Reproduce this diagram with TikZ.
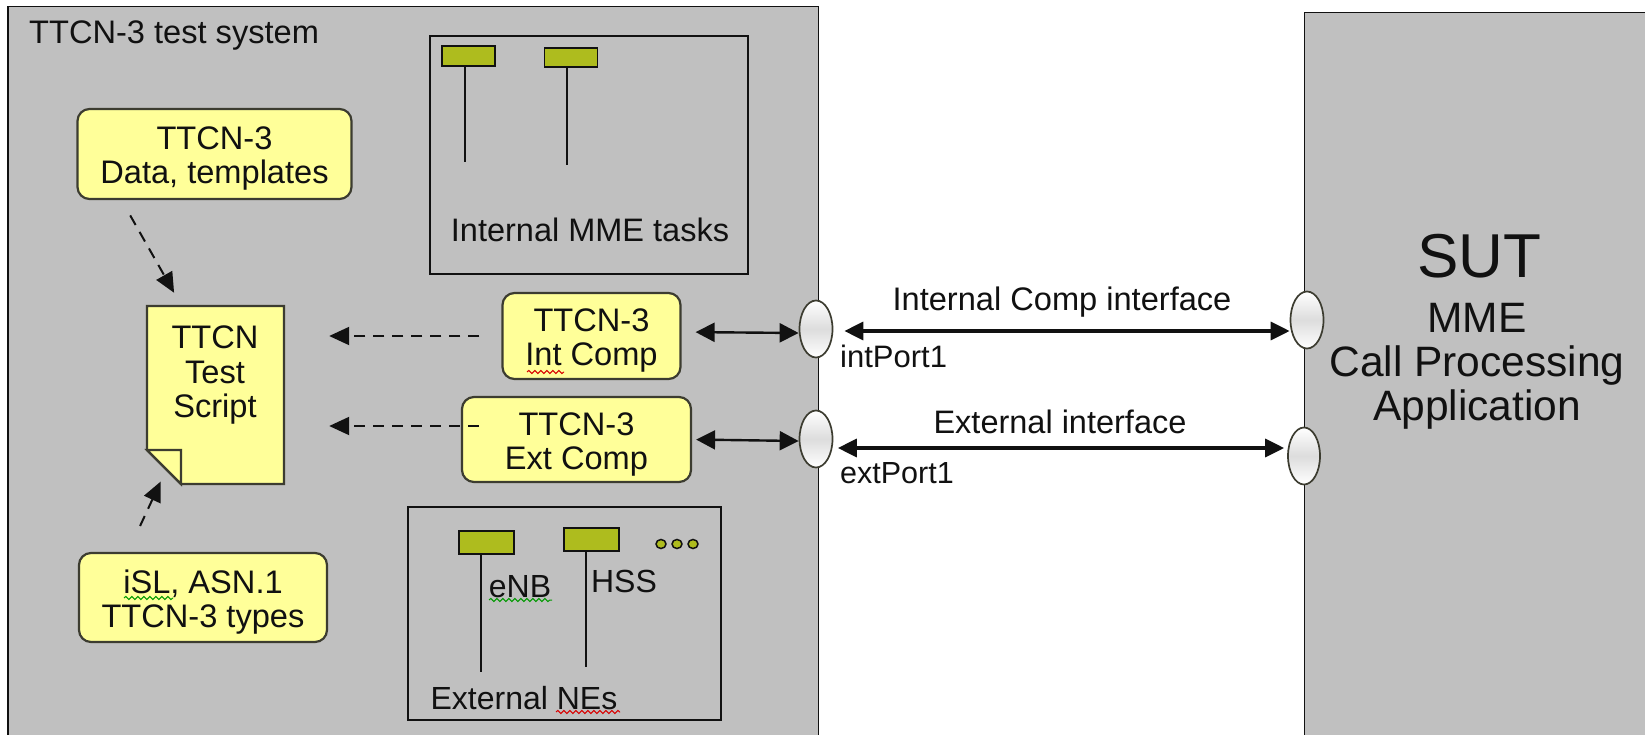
\documentclass[tikz,border=0pt]{standalone}
\usepackage{fontspec}
\setmainfont{Liberation Sans}
\usetikzlibrary{arrows.meta,calc,decorations.pathmorphing,shapes.geometric}
\definecolor{sysgrey}{HTML}{C0C0C0}
\definecolor{noteyellow}{HTML}{FFFF99}
\definecolor{barolive}{HTML}{AEBC1E}
\definecolor{edgedark}{HTML}{3C3C30}
\definecolor{ink}{HTML}{111111}
\newcommand{\fs}[2]{\fontsize{#1}{#2}\selectfont}
\newcommand{\dn}{\rule{0pt}{32pt}}
\tikzset{
  x=1pt,y=-1pt,
  every node/.style={text=ink},
  sysbox/.style={line width=1.8pt,draw=ink},
  notebox/.style={draw=edgedark,fill=noteyellow,line width=2.2pt,rounded corners=12pt,inner sep=0pt,align=center,font=\fs{32.6}{34}},
  groupbox/.style={draw=ink,line width=1.8pt,inner sep=0pt,rectangle},
  barbox/.style={draw=ink,fill=barolive,line width=1.8pt,inner sep=0pt,rectangle},
  lifeline/.style={draw=ink,line width=1.6pt},
  txt/.style={inner sep=0pt,font=\fs{32}{34}},
  dep/.style={draw=ink,line width=2pt,dash pattern=on 11pt off 8pt,-{Triangle[length=20pt,width=18pt]}},
  link/.style={draw=ink,line width=3.4pt,{Triangle[length=19pt,width=18pt]}-{Triangle[length=19pt,width=18pt]}},
  thinlink/.style={draw=ink,line width=2.4pt,{Triangle[length=19pt,width=19pt]}-{Triangle[length=19pt,width=19pt]}},
  port/.style={ellipse,draw=edgedark,line width=1.7pt,minimum width=33pt,minimum height=57pt,inner sep=0pt,
     top color=white,bottom color=white,middle color=sysgrey!55!white},
  dotnode/.style={ellipse,draw=ink,fill=barolive,line width=1.5pt,minimum width=10pt,minimum height=9pt,inner sep=0pt},
  spellred/.style={draw=red!85!black,line width=1pt,decorate,decoration={snake,amplitude=1.6pt,segment length=6pt}},
  spellgreen/.style={draw=green!60!black,line width=1pt,decorate,decoration={snake,amplitude=1.6pt,segment length=6pt}},
}
\begin{document}
\begin{tikzpicture}
\useasboundingbox[fill=white] (0,0) rectangle (1645,735);
% system boxes (open at the page edge)
\fill[sysgrey] (8,6.5) rectangle (818.5,735);
\draw[sysbox] (8,735) -- (8,6.5) -- (818.5,6.5) -- (818.5,735);
\fill[sysgrey] (1304.5,12.5) rectangle (1645,735);
\draw[sysbox] (1304.5,735) -- (1304.5,12.5) -- (1645,12.5);
\node[txt,anchor=west,font=\fs{32.6}{34}] (title) at (29,36) {TTCN-3 test system};
\node[txt,font=\fs{62}{64}] (sut) at (1479,256) {SUT};
\node[txt,font=\fs{42.5}{44},align=center] (mme) at (1477,366) {MME\\Call Processing\\Application};
% internal tasks
\node[groupbox,minimum width=318pt,minimum height=238pt] (intgroup) at (589,155) {};
\node[barbox,minimum width=53pt,minimum height=20pt] (barA) at (468.5,56) {};
\node[barbox,minimum width=53pt,minimum height=18.5pt] (barB) at (571,57.5) {};
\coordinate (barAend) at (465,162);
\coordinate (barBend) at (567,165);
\draw[lifeline] (barAend |- barA.south) -- (barAend);
\draw[lifeline] (barBend |- barB.south) -- (barBend);
\node[txt,font=\fs{32.5}{34}] (intlabel) at (590,230) {Internal MME tasks};
% external NEs
\node[groupbox,minimum width=313pt,minimum height=213pt] (extgroup) at (564.5,613.5) {};
\node[barbox,minimum width=55pt,minimum height=23pt] (barC) at (486.5,542.5) {};
\node[barbox,minimum width=55pt,minimum height=23pt] (barD) at (591.5,539.5) {};
\coordinate (barCend) at (481,672);
\coordinate (barDend) at (586,667);
\draw[lifeline] (barCend |- barC.south) -- (barCend);
\draw[lifeline] (barDend |- barD.south) -- (barDend);
\node[dotnode] (dotA) at (661,544) {};
\node[dotnode] (dotB) at (677,544) {};
\node[dotnode] (dotC) at (693,544) {};
\node[txt] (enb) at (520,587) {eNB};
\node[txt] (hss) at (624,581) {HSS};
\node[txt] (extlabel) at (524,698) {External NEs};
\draw[spellgreen] (489,600) -- (552,600);
\draw[spellred] (556,712) -- (620,712);
% notes
\node[notebox,minimum width=274pt,minimum height=90pt] (data) at (214.5,154) {\dn TTCN-3\\Data, templates};
\node[notebox,minimum width=248pt,minimum height=89pt] (types) at (203,597.5) {\dn iSL, ASN.1\\TTCN-3 types};
\node[notebox,minimum width=178pt,minimum height=86pt] (intcomp) at (591.5,336) {\dn TTCN-3\\Int Comp};
\node[notebox,minimum width=229pt,minimum height=85pt] (extcomp) at (576.5,439.5) {\dn TTCN-3\\Ext Comp};
\draw[spellgreen] (124,598) -- (173,598);
\draw[spellred] (527,372) -- (564,372);
% script
\draw[draw=edgedark,fill=noteyellow,line width=2.2pt,line join=miter] (147,306) -- (284,306) -- (284,484) -- (181,484) -- (147,450) -- cycle;
\draw[draw=edgedark,fill=noteyellow,line width=2.2pt] (147,450) -- (181,450) -- (181,484) -- cycle;
\node[inner sep=0pt,minimum width=137pt,minimum height=178pt] (script) at (215.5,395) {};
\node[txt,font=\fs{32.6}{34.5},align=center] (scripttext) at (215,375) {TTCN\\Test\\Script};
% ports
\node[port] (portA) at (816,329) {};
\node[port] (portB) at (816,439) {};
\node[port] (portC) at (1307,320) {};
\node[port,minimum width=32pt] (portD) at (1304,456) {};
% connectors
\draw[dep,shorten <=17.6pt,shorten >=15pt] ([xshift=-93pt]data.south) -- ([xshift=-34pt]script.north);
\draw[dep,shorten <=28.6pt,shorten >=-3pt] ([xshift=-75pt]types.north) -- ([xshift=-56pt]script.south);
\draw[dep,shorten <=22pt,shorten >=45pt] (intcomp.west) -- (script.east |- intcomp.west);
\draw[dep,shorten <=-18pt,shorten >=45pt] ([yshift=13.5pt]extcomp.west) -- (script.east |- {$(extcomp.west)+(0,-13.5)$});
\draw[thinlink,shorten <=14pt] ([yshift=4pt]intcomp.east) -- ([yshift=-4pt]portA.west);
\draw[thinlink,shorten <=4pt] (extcomp.east) -- ([yshift=-2pt]portB.west);
\draw[link,shorten <=11pt] ([yshift=-2pt]portA.east) -- ([yshift=-11pt]portC.west);
\draw[link,shorten <=4.5pt,shorten >=3pt] ([yshift=-9pt]portB.east) -- ([yshift=8pt]portD.west);
% labels
\node[txt,font=\fs{32.6}{34}] (lblInt) at (1062,302.5) {Internal Comp interface};
\node[txt,font=\fs{32.5}{34}] (lblExt) at (1060,421.5) {External interface};
\node[txt,font=\fs{31}{34},anchor=west] (lblPortA) at (840,356) {intPort1};
\node[txt,font=\fs{30.5}{34},anchor=west] (lblPortB) at (840,473) {extPort1};
\end{tikzpicture}
\end{document}
